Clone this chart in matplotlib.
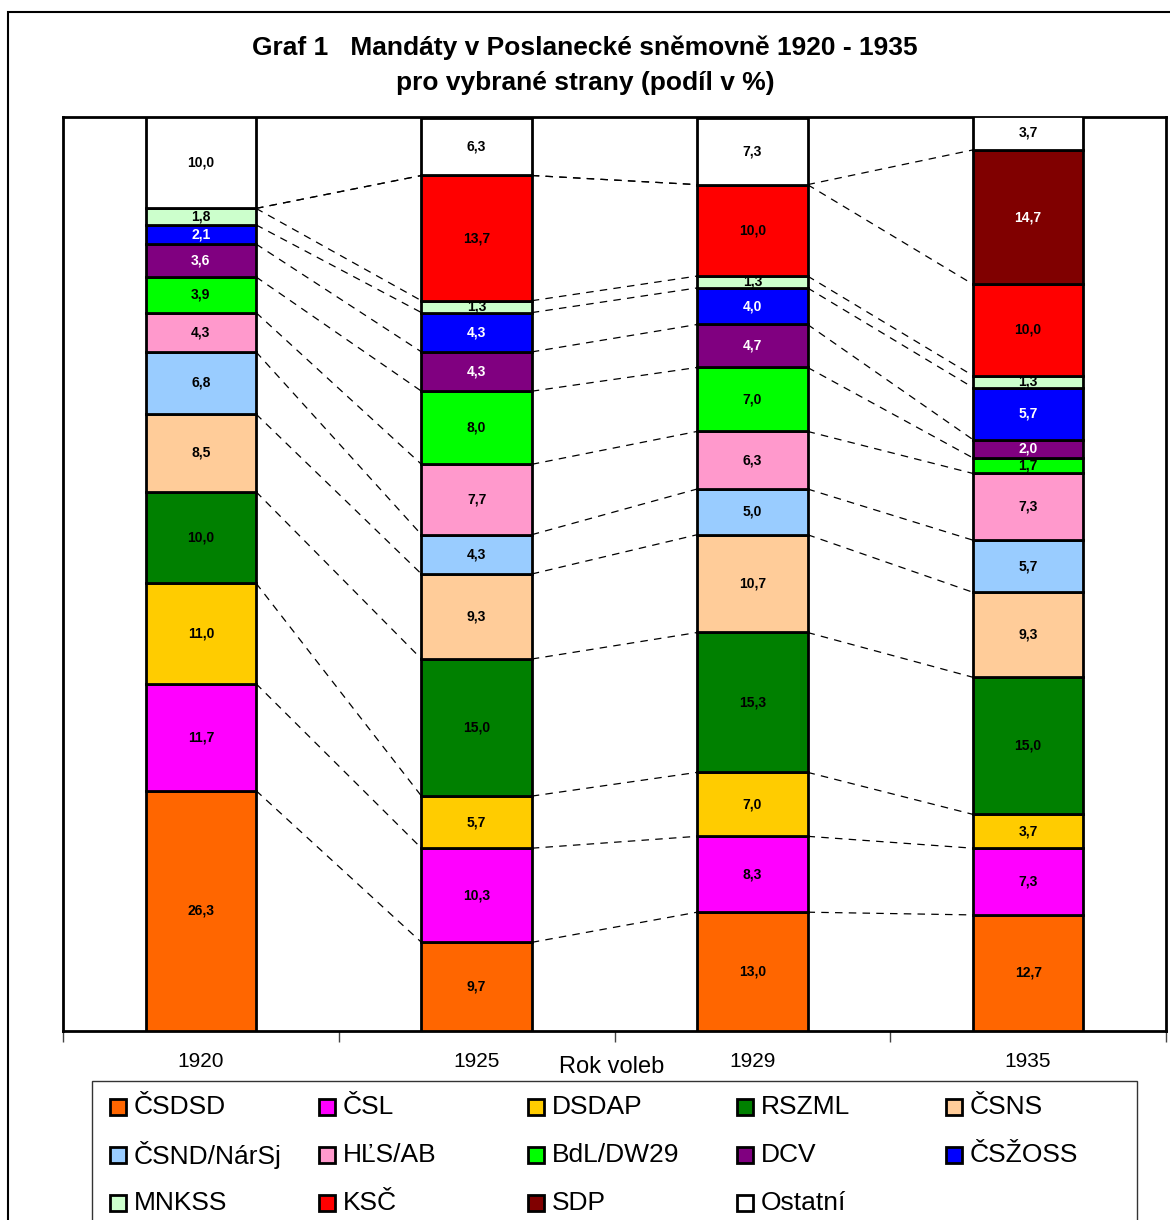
import matplotlib.pyplot as plt
from matplotlib.patches import Rectangle
import numpy as np

plt.rcParams['font.family'] = ['Liberation Sans', 'DejaVu Sans']

# data
roky = ['1920', '1925', '1929', '1935']
strany = ['ČSDSD', 'ČSL', 'DSDAP', 'RSZML', 'ČSNS', 'ČSND/NárSj', 'HĽS/AB',
          'BdL/DW29', 'DCV', 'ČSŽOSS', 'MNKSS', 'KSČ', 'SDP', 'Ostatní']
barvy = ['#FF6600', '#FF00FF', '#FFCC00', '#008000', '#FFCC99', '#99CCFF', '#FF99CC',
         '#00FF00', '#800080', '#0000FF', '#CCFFCC', '#FF0000', '#800000', '#FFFFFF']
csdsd = [26.3, 9.7, 13.0, 12.7]
csl = [11.7, 10.3, 8.3, 7.3]
dsdap = [11.0, 5.7, 7.0, 3.7]
rszml = [10.0, 15.0, 15.3, 15.0]
csns = [8.5, 9.3, 10.7, 9.3]
csnd = [6.8, 4.3, 5.0, 5.7]
hls = [4.3, 7.7, 6.3, 7.3]
bdl = [3.9, 8.0, 7.0, 1.7]
dcv = [3.6, 4.3, 4.7, 2.0]
cszoss = [2.1, 4.3, 4.0, 5.7]
mnkss = [1.8, 1.3, 1.3, 1.3]
ksc = [0.0, 13.7, 10.0, 10.0]
sdp = [0.0, 0.0, 0.0, 14.7]
ostatni = [10.0, 6.3, 7.3, 3.7]

hodnoty = np.array([csdsd, csl, dsdap, rszml, csns, csnd, hls, bdl, dcv,
                    cszoss, mnkss, ksc, sdp, ostatni])
bile_popisky = ['DCV', 'ČSŽOSS', 'SDP']

W, H = 1170, 1220
fig = plt.figure(figsize=(W / 100, H / 100), dpi=100)
ax = fig.add_axes([63 / W, 1 - 1031 / H, (1166 - 63) / W, (1031 - 117) / H])

x = np.arange(len(roky))
sirka = 0.4
spodek = np.zeros(len(roky))
for i, s in enumerate(strany):
    ax.bar(x, hodnoty[i], sirka, bottom=spodek, color=barvy[i], edgecolor='black',
           linewidth=2, label=s, zorder=3)
    for j in range(len(roky)):
        v = hodnoty[i][j]
        if v > 0:
            ax.text(x[j], spodek[j] + v / 2, f'{v:.1f}'.replace('.', ','),
                    ha='center', va='center', fontsize=10, fontweight='bold',
                    color='white' if s in bile_popisky else 'black', zorder=4)
    spodek = spodek + hodnoty[i]

# spojnice mezi sloupci (series lines)
kum = np.cumsum(hodnoty, axis=0)
for i in range(len(strany) - 1):
    for j in range(len(roky) - 1):
        ax.plot([x[j] + sirka / 2, x[j + 1] - sirka / 2], [kum[i][j], kum[i][j + 1]],
                color='black', linewidth=0.9, linestyle=(0, (6, 5)), zorder=2)

ax.set_xlim(-0.5, 3.5)
ax.set_ylim(0, 100)
ax.set_yticks([])
ax.set_xticks(x)
ax.set_xticklabels(roky, fontsize=15)
ax.tick_params(axis='x', which='major', length=0, pad=15)
ax.set_xticks(np.arange(-0.5, 4, 1), minor=True)
ax.tick_params(axis='x', which='minor', length=8, width=1, direction='out', color='#444444')
for sp in ax.spines.values():
    sp.set_linewidth(2)

fig.text(612 / W, 1 - 1067 / H, 'Rok voleb', ha='center', va='center', fontsize=17)

fig.text(585 / W, 1 - 48 / H, 'Graf 1   Mandáty v Poslanecké sněmovně 1920 - 1935',
         ha='center', va='center', fontsize=19, fontweight='bold')
fig.text(585 / W, 1 - 83 / H, 'pro vybrané strany (podíl v %)',
         ha='center', va='center', fontsize=19, fontweight='bold')

# ramecek grafu
fig.patches.append(Rectangle((8 / W, -0.05), 1.2, 1 - 12 / H + 0.05, transform=fig.transFigure,
                             fill=False, edgecolor='black', linewidth=1.5))

# legenda (5 sloupcu, po radcich)
fig.patches.append(Rectangle((92 / W, -0.05), (1137 - 92) / W, 1 - 1081 / H + 0.05,
                             transform=fig.transFigure, facecolor='white',
                             edgecolor='#333333', linewidth=1))
for k, s in enumerate(strany):
    r, c = divmod(k, 5)
    lx = 110 + c * 209
    ly = 1107 + r * 48
    fig.patches.append(Rectangle((lx / W, 1 - (ly + 8) / H), 16 / W, 16 / H,
                                 transform=fig.transFigure, facecolor=barvy[k],
                                 edgecolor='black', linewidth=2))
    fig.text((lx + 24) / W, 1 - ly / H, s, ha='left', va='center', fontsize=19)

fig.savefig('out.png', dpi=100)
